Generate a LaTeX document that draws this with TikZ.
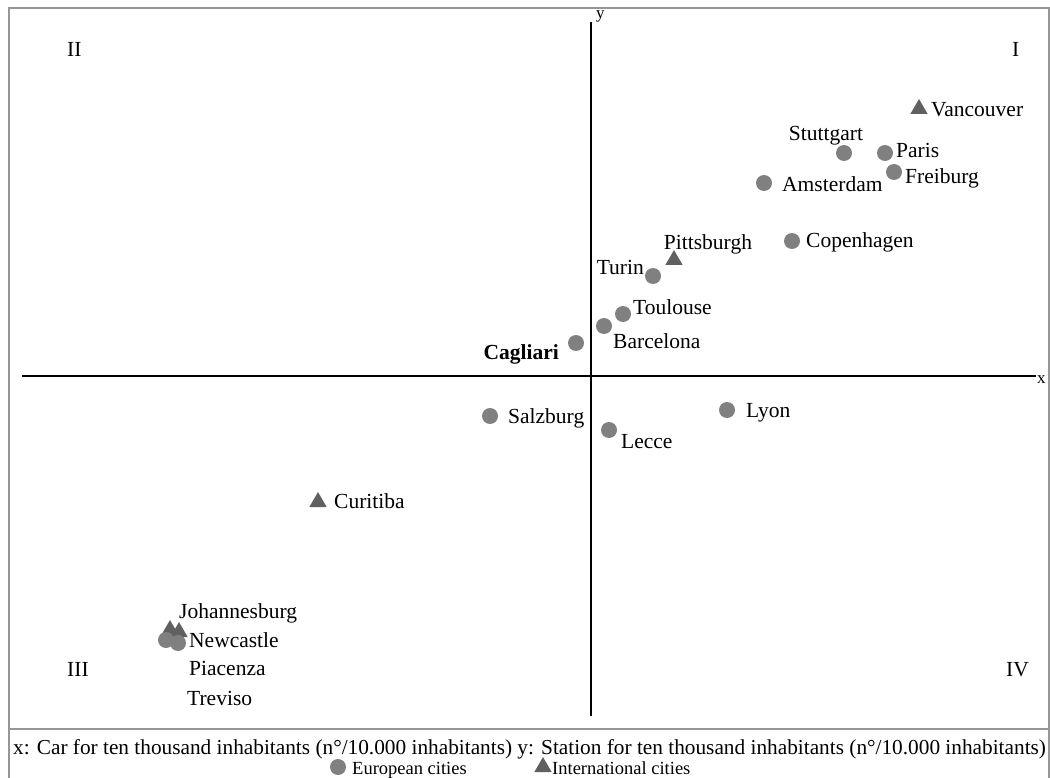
\documentclass[tikz,border=0pt]{standalone}
\usepackage{fontspec}
\setmainfont{Liberation Serif}
\usetikzlibrary{shapes.geometric}
\definecolor{cgray}{RGB}{128,128,128}
\definecolor{tgray}{RGB}{96,96,96}
\definecolor{fgray}{RGB}{150,150,150}
\newcommand{\labfont}{\fontsize{21.5}{24}\selectfont}
\newcommand{\legfont}{\fontsize{18.5}{22}\selectfont}
\newcommand{\legafont}{\fontsize{21.3}{24}\selectfont}
\begin{document}
\begin{tikzpicture}[x=1pt,y=-1pt,
  eu/.style={circle, fill=cgray, inner sep=0pt, minimum size=16pt},
  intl/.style={regular polygon, regular polygon sides=3, fill=tgray, inner sep=0pt, minimum size=20pt},
  lab/.style={anchor=base west, inner sep=0pt, font=\labfont},
  labr/.style={anchor=base east, inner sep=0pt, font=\labfont},
  labc/.style={anchor=base, inner sep=0pt, font=\labfont},
  leg/.style={anchor=base west, inner sep=0pt, font=\legfont},
  axis/.style={line width=2.6pt, black},
  frame/.style={line width=2pt, fgray}]
\useasboundingbox (0,0) rectangle (1050,778);
% frame
\coordinate (fTL) at (9,8);
\coordinate (fBR) at (1049,782);
\draw[frame] (fTL) rectangle (fBR);
\coordinate (dL) at (9,729);
\coordinate (dR) at (1049,729);
\draw[frame] (dL) -- (dR);
% axes
\coordinate (xL) at (22,376);
\coordinate (xR) at (1036,376);
\coordinate (yT) at (591,22);
\coordinate (yB) at (591,716);
\draw[axis] (xL) -- (xR);
\draw[axis] (yB) -- (yT);
\node[anchor=base west, inner sep=0pt, font=\fontsize{17}{20}\selectfont] (xlab) at (1037,383) {x};
\node[anchor=base west, inner sep=0pt, font=\fontsize{17}{20}\selectfont] (ylab) at (596,19) {y};
% quadrants
\node[lab] (qI) at (1012,57) {I};
\node[lab] (qII) at (67,57) {II};
\node[lab] (qIII) at (67,676) {III};
\node[lab] (qIV) at (1006,676) {IV};
% points
\node[intl] (vanc) at (919,109) {};
\node[lab] (vancl) at (931,117) {Vancouver};
\node[eu] (stut) at (844,153) {};
\node[labc] (stutl) at (826,141) {Stuttgart};
\node[eu] (pari) at (885,153) {};
\node[lab] (paril) at (896,158) {Paris};
\node[eu] (frei) at (894,172) {};
\node[lab] (freil) at (905,184) {Freiburg};
\node[eu] (amst) at (764,183) {};
\node[lab] (amstl) at (782,192) {Amsterdam};
\node[eu] (cope) at (792,241) {};
\node[lab] (copel) at (806,248) {Copenhagen};
\node[intl] (pitt) at (674,260) {};
\node[labc] (pittl) at (708,250) {Pittsburgh};
\node[eu] (turi) at (653,276) {};
\node[labr] (turil) at (644,275) {Turin};
\node[eu] (toul) at (623,314) {};
\node[lab] (toull) at (633,314) {Toulouse};
\node[eu] (barc) at (604,326) {};
\node[lab] (barcl) at (613,348) {Barcelona};
\node[eu] (cagl) at (576,343) {};
\node[labr] (cagll) at (559,359) {\bfseries Cagliari};
\node[eu] (salz) at (490,416) {};
\node[lab] (salzl) at (508,423) {Salzburg};
\node[eu] (lecc) at (609,430) {};
\node[lab] (leccl) at (621,448) {Lecce};
\node[eu] (lyon) at (727,410) {};
\node[lab] (lyonl) at (746,417) {Lyon};
\node[intl] (curi) at (318,502) {};
\node[lab] (curil) at (334,508) {Curitiba};
\node[intl] (joha) at (170,630) {};
\node[intl] (joh2) at (179,632) {};
\node[eu] (newc) at (166,640) {};
\node[eu] (piac) at (178,643) {};
\node[lab] (johal) at (179,618) {Johannesburg};
\node[lab] (newcl) at (189,647) {Newcastle};
\node[lab] (piacl) at (189,675) {Piacenza};
\node[lab] (trevl) at (187,705) {Treviso};
% legend
\node[leg, font=\legafont] (leg1) at (13,754) {x: Car for ten thousand inhabitants (n°/10.000 inhabitants) y: Station for ten thousand inhabitants (n°/10.000 inhabitants)};
\node[eu] (legeu) at (338,767) {};
\node[leg] (legeul) at (352,774) {European cities};
\node[intl] (legint) at (543,767) {};
\node[leg] (legintl) at (552,774) {International cities};
\end{tikzpicture}
\end{document}
